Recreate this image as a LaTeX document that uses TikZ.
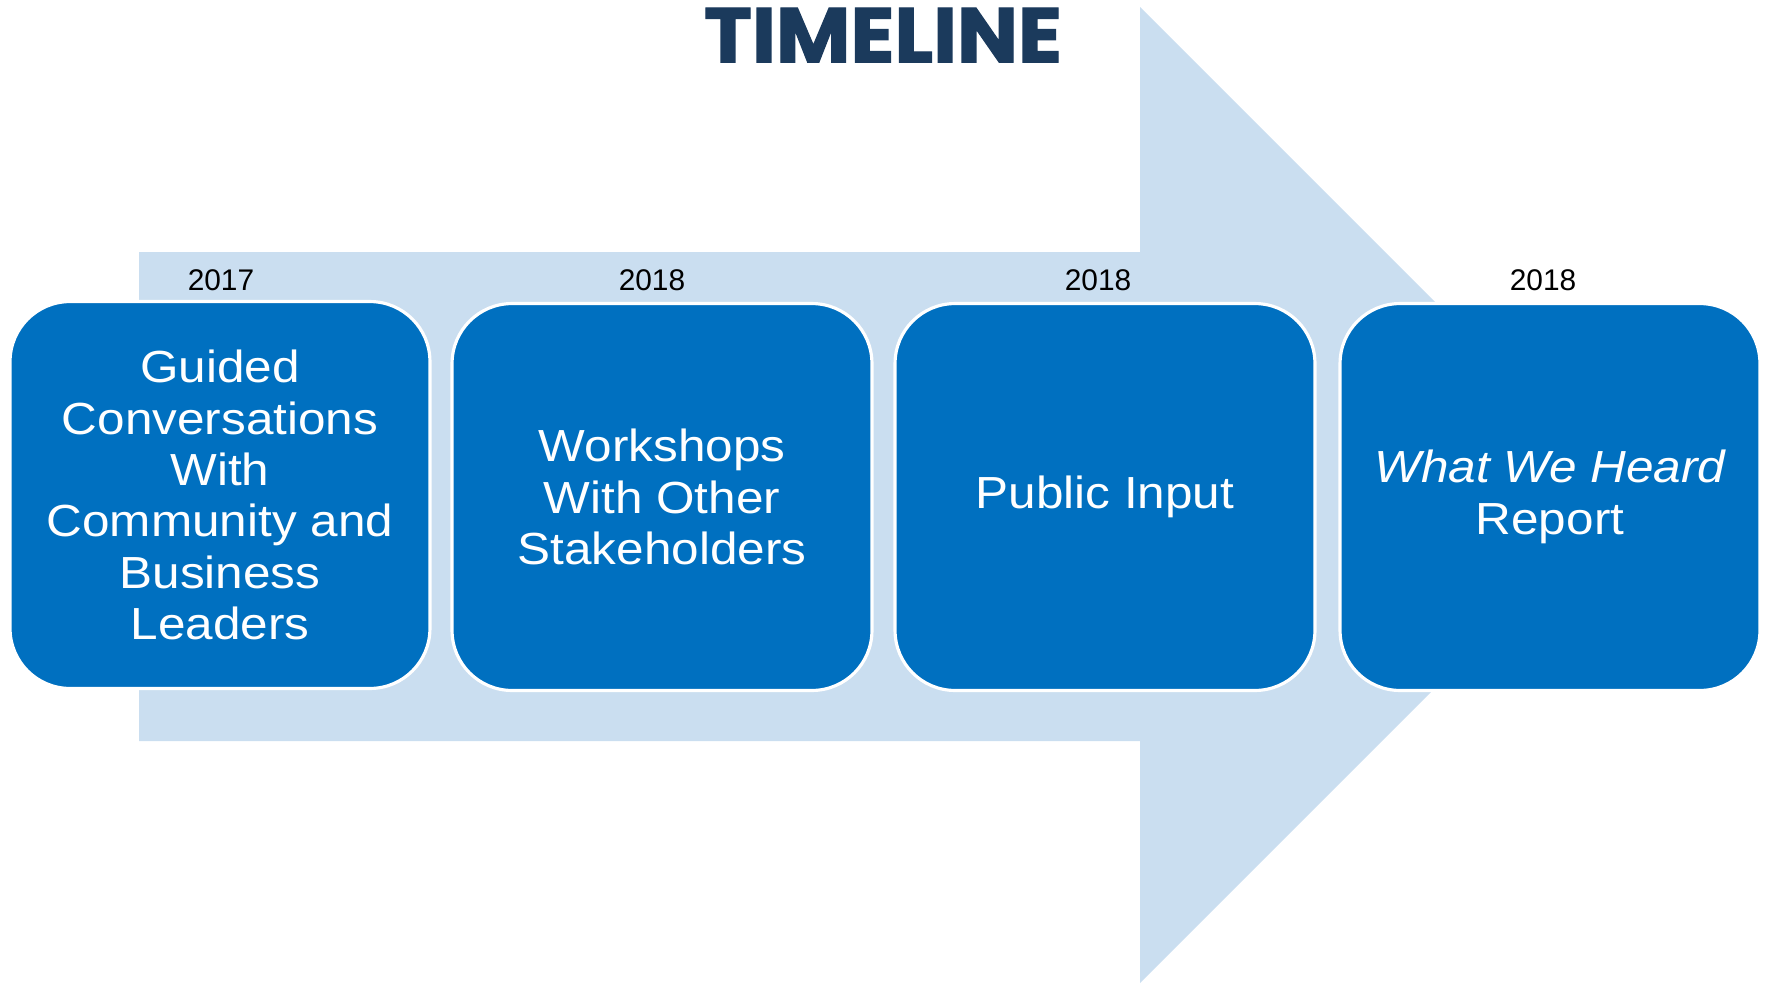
\documentclass[tikz,border=0pt]{standalone}
\usepackage{fontspec}
\setmainfont{Liberation Sans}
\newfontfamily\boxfont[FakeStretch=1.1]{Liberation Sans}
\newfontfamily\titlefont[FakeBold=1.6,FakeStretch=1.05]{Poppins}
\definecolor{boxblue}{HTML}{0070C0}
\definecolor{lightblue}{HTML}{CADEF0}
\definecolor{titleblue}{HTML}{1B3A5C}
\begin{document}
\begin{tikzpicture}[x=0.02cm,y=-0.02cm,
  stagebox/.style={rounded corners=1.2cm, fill=boxblue, draw=white, line width=1.8pt,
    minimum width=8.4cm, minimum height=7.74cm, align=center, text=white,
    font=\boxfont\fontsize{25.6pt}{29.2pt}\selectfont, inner sep=0pt},
  yearlabel/.style={font=\fontsize{17pt}{19pt}\selectfont, text=black, inner sep=0pt},
  titletext/.style={font=\titlefont\bfseries\fontsize{44pt}{48pt}\selectfont, text=titleblue, inner sep=0pt}]
\useasboundingbox (0,0) rectangle (1769,985);
% background arrow
\fill[lightblue] (139,252) -- (1140,252) -- (1140,7) -- (1628,495) -- (1140,983) -- (1140,741) -- (139,741) -- cycle;
% title
\node[titletext] (title) at (883,35) {TIMELINE};
% boxes
\node[stagebox] (b1) at (220,495) {Guided\\Conversations\\With\\Community and\\Business\\Leaders};
\node[stagebox] (b2) at (662,497) {Workshops\\With Other\\Stakeholders};
\node[stagebox] (b3) at (1105,497) {Public Input};
\node[stagebox] (b4) at (1550,497) {\itshape What We Heard\\Report};
% years
\node[yearlabel] (y1) at (221,280) {2017};
\node[yearlabel] (y2) at (652,280) {2018};
\node[yearlabel] (y3) at (1098,280) {2018};
\node[yearlabel] (y4) at (1543,280) {2018};
\end{tikzpicture}
\end{document}
